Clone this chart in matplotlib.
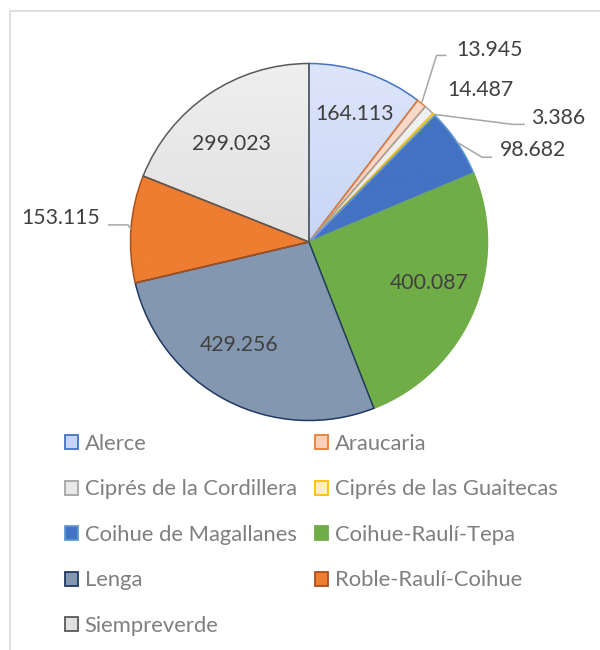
import numpy as np
import matplotlib
matplotlib.use('Agg')
import matplotlib.pyplot as plt
from matplotlib.patches import Patch, Rectangle
from matplotlib.colors import to_rgb

###################################
#     Datos                     ###
###################################

especies = ['Alerce', 'Araucaria', 'Ciprés de la Cordillera', 'Ciprés de las Guaitecas',
            'Coihue de Magallanes', 'Coihue-Raulí-Tepa', 'Lenga', 'Roble-Raulí-Coihue',
            'Siempreverde']
superficie = [164113, 13945, 14487, 3386, 98682, 400087, 429256, 153115, 299023]

# relleno (arriba, abajo) y borde de cada tajada
relleno_sup = ['#DDE5FA', '#FCDDCD', '#F4F4F4', '#FFF6D8', '#4472C4', '#70AD47', '#8497B0', '#ED7D31', '#EFEFEF']
relleno_inf = ['#B2C5F1', '#F8C3AA', '#DEDEDE', '#FFE8A0', '#4472C4', '#70AD47', '#8497B0', '#ED7D31', '#D3D3D3']
bordes = ['#4472C4', '#ED7D31', '#A5A5A5', '#FFC000', '#5B9BD5', '#70AD47', '#1F3864', '#A9501B', '#595959']

###################################
#     Figura                    ###
###################################

W, H = 600, 650
fig = plt.figure(figsize=(6, 6.5), dpi=100)
ax = fig.add_axes([0, 0, 1, 1])

cx, cy, R = 309, 408, 178.5
wedges, _ = ax.pie(superficie, startangle=90, counterclock=False, center=(cx, cy), radius=R,
                   wedgeprops=dict(linewidth=1.1))

grad = np.linspace(0, 1, 256)[:, None]
for w, c1, c2, ec in zip(wedges, relleno_sup, relleno_inf, bordes):
    w.set_edgecolor(ec)
    w.set_facecolor('none')
    w.set_zorder(3)
    a = np.array(to_rgb(c2))
    b = np.array(to_rgb(c1))
    img = a[None, None, :] * (1 - grad[:, :, None]) + b[None, None, :] * grad[:, :, None]
    im = ax.imshow(img, extent=(cx - R, cx + R, cy - R, cy + R), origin='lower',
                   zorder=2, interpolation='bilinear')
    im.set_clip_path(w)

ax.set_xlim(0, W)
ax.set_ylim(0, H)
ax.set_aspect('auto')
ax.axis('off')

# borde del area del grafico
ax.add_patch(Rectangle((9.5, -20), 700, H - 10.5 + 20, fill=False, ec='#D9D9D9', lw=1.2, zorder=0))

###################################
#     Etiquetas                 ###
###################################

fuente = 'Lato'
col_txt = '#404040'
col_guia = '#A6A6A6'

def texto(v):
    return f'{v:,}'.replace(',', '.')

# etiquetas interiores: (distancia relativa, ajuste de angulo)
interior = {0: (0.76, -1), 5: (0.71, 4), 6: (0.70, -6.4), 8: (0.70, 4)}
# etiquetas exteriores: codo, fin de guia, posicion del texto (desplazamientos desde el borde)
exterior = {
    1: ((15, 48), (25, 48), (35, 53), 'left'),
    2: (None, None, (18, 20), 'left'),
    3: ((79, -10), (91, -10), (97, -4), 'left'),
    4: ((25, -15), (35, -15), (43, -8), 'left'),
    7: ((-3, 4), (-23, 4), (-31, 11), 'right'),
}

for i, w in enumerate(wedges):
    mid = np.deg2rad((w.theta1 + w.theta2) / 2)
    lab = texto(superficie[i])
    if i in interior:
        f, da = interior[i]
        ang = mid + np.deg2rad(da)
        ax.text(cx + f * R * np.cos(ang), cy + f * R * np.sin(ang), lab, ha='center', va='center',
                fontsize=15.3, color=col_txt, family=fuente, zorder=5)
    else:
        codo, fin, pos, ha = exterior[i]
        ex, ey = cx + R * np.cos(mid), cy + R * np.sin(mid)
        if codo is not None:
            ax.plot([ex, ex + codo[0], ex + fin[0]], [ey, ey + codo[1], ey + fin[1]],
                    color=col_guia, lw=1.1, zorder=4, solid_capstyle='butt')
        ax.text(ex + pos[0], ey + pos[1], lab, ha=ha, va='center',
                fontsize=15.3, color=col_txt, family=fuente, zorder=5)

###################################
#     Leyenda                   ###
###################################

colores_ley = ['#C6D4F5', '#FAD0BC', '#E9E9E9', '#FFEFBC', '#4472C4', '#70AD47', '#8497B0', '#ED7D31', '#E0E0E0']
handles = [Patch(facecolor=fc, edgecolor=ec, lw=1.3) for fc, ec in zip(colores_ley, bordes)]

opts = dict(frameon=False, handlelength=0.6, handleheight=0.6, handletextpad=0.3,
            labelspacing=1.16, borderpad=0, borderaxespad=0, loc='upper left',
            bbox_transform=ax.transData, prop=dict(family=fuente, size=15.8))
ley1 = ax.legend([handles[i] for i in range(0, 9, 2)], [especies[i] for i in range(0, 9, 2)],
                 bbox_to_anchor=(65, H - 434), labelcolor='#7F7F7F', **opts)
ax.add_artist(ley1)
ax.legend([handles[i] for i in range(1, 9, 2)], [especies[i] for i in range(1, 9, 2)],
          bbox_to_anchor=(315, H - 434), labelcolor='#7F7F7F', **opts)

plt.savefig('out.png', dpi=100)
